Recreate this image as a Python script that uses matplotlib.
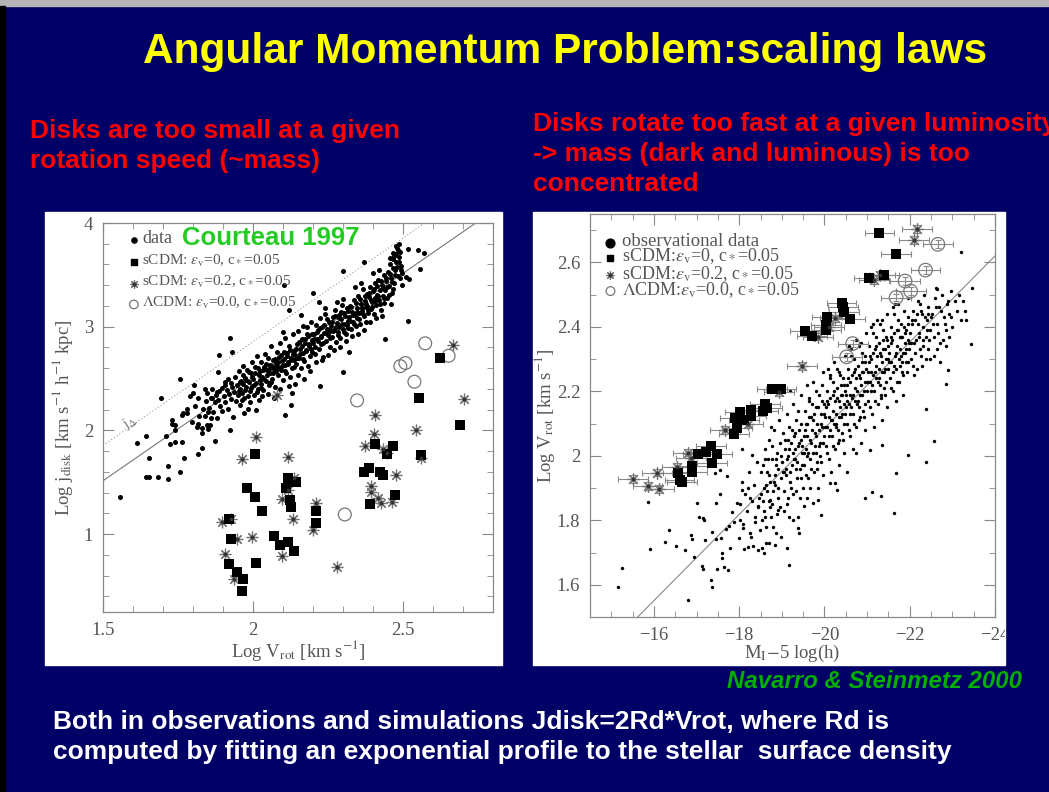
import numpy as np
import matplotlib
matplotlib.use('Agg')
import matplotlib.pyplot as plt
from matplotlib.patches import Rectangle
from matplotlib.ticker import MultipleLocator
from matplotlib.transforms import Bbox, TransformedBbox

plt.rcParams['font.family'] = 'Liberation Serif'
plt.rcParams['mathtext.fontset'] = 'stix'

W, H = 1049, 792
NAVY = '#000066'
AXCOL = '#555555'

# ---------------- left panel: log j_disk vs log V_rot ----------------
# Courteau 1997 galaxies
jdata = [
    (1.557,1.355),(1.612,1.88),(1.642,1.95),(1.653,1.73),(1.642,1.55),(1.653,1.55),(1.682,1.55),
    (1.716,1.53),(1.716,1.66),(1.693,2.31),(1.710,1.95),(1.723,1.865),(1.740,1.89),(1.757,1.60),
    (1.771,1.73),(1.762,1.89),(1.757,2.50),(1.729,2.10),(1.740,2.05),(1.762,2.15),(1.779,2.21),
    (1.796,2.08),(1.804,2.44),(1.818,1.77),(1.829,1.83),(1.812,2.03),(1.829,2.02),(1.846,2.05),
    (1.818,2.31),(1.834,2.21),(1.851,2.18),(1.873,1.90),(1.862,2.31),(1.879,2.37),(1.884,2.56),
    (1.887,2.73),(1.907,2.47),(1.923,2.89),(1.924,2.00),(1.929,2.76),(1.780,2.17),(1.800,2.36),
    (1.820,2.14),(1.790,2.33),(1.840,2.40),(1.830,1.98),(1.850,2.01),(1.860,2.12),(1.805,2.24),
    (1.815,2.06),(1.740,2.00),(1.730,2.06),(1.765,2.17),
    (1.840,2.14),(1.843,2.28),(1.848,2.36),(1.852,2.22),(1.856,2.05),(1.861,2.31),(1.864,2.40),
    (1.868,2.18),(1.872,2.27),(1.876,2.34),(1.880,2.12),(1.884,2.29),(1.887,2.38),(1.891,2.24),
    (1.895,2.41),(1.898,2.19),
    (1.902,2.33),(1.905,2.44),(1.908,2.27),(1.912,2.39),(1.915,2.50),(1.918,2.21),(1.921,2.35),
    (1.925,2.46),(1.928,2.30),(1.931,2.42),(1.934,2.13),(1.937,2.37),(1.940,2.52),(1.943,2.28),
    (1.946,2.44),(1.949,2.34),(1.952,2.57),(1.955,2.25),(1.958,2.40),(1.960,2.48),
    (1.962,2.36),(1.965,2.62),(1.968,2.45),(1.971,2.31),(1.974,2.51),(1.977,2.42),(1.980,2.58),
    (1.983,2.21),(1.986,2.47),(1.989,2.38),(1.992,2.55),(1.995,2.66),(1.998,2.43),(2.001,2.50),
    (2.004,2.34),(2.007,2.61),(2.010,2.46),(2.013,2.72),(2.016,2.40),(2.019,2.53),(2.021,2.29),
    (1.970,2.17),(1.990,2.27),(2.010,2.20),
    (2.022,2.57),(2.025,2.45),(2.028,2.66),(2.031,2.52),(2.034,2.39),(2.037,2.61),(2.040,2.74),
    (2.043,2.48),(2.046,2.58),(2.049,2.70),(2.052,2.44),(2.055,2.63),(2.058,2.55),(2.061,2.81),
    (2.064,2.50),(2.067,2.68),(2.070,2.59),(2.073,2.42),(2.076,2.65),(2.079,2.76),(2.030,2.33),
    (2.050,2.35),(2.070,2.31),(2.060,2.47),
    (2.081,2.62),(2.084,2.53),(2.087,2.71),(2.090,2.84),(2.093,2.58),(2.096,2.67),(2.099,2.49),
    (2.102,2.76),(2.105,2.63),(2.108,2.89),(2.111,2.55),(2.114,2.72),(2.117,2.66),(2.120,2.81),
    (2.123,2.52),(2.126,2.70),(2.129,2.60),(2.132,2.93),(2.135,2.68),(2.138,2.77),(2.139,2.45),
    (2.090,2.40),(2.120,2.43),(2.100,2.95),(2.130,2.36),(2.121,3.16),(2.104,3.40),(2.107,2.15),
    (2.127,2.25),
    (2.141,2.73),(2.144,2.64),(2.147,2.83),(2.150,2.96),(2.153,2.70),(2.156,2.79),(2.159,2.60),
    (2.162,2.88),(2.165,2.75),(2.168,3.01),(2.171,2.67),(2.174,2.84),(2.177,2.78),(2.180,2.93),
    (2.183,2.62),(2.186,2.81),(2.189,2.72),(2.192,3.05),(2.195,2.87),(2.198,2.76),(2.150,2.53),
    (2.170,2.50),(2.190,2.57),(2.160,3.11),(2.180,3.00),
    (2.201,2.84),(2.204,2.93),(2.207,2.74),(2.210,3.02),(2.213,2.88),(2.216,2.97),(2.219,2.79),
    (2.222,3.08),(2.225,2.90),(2.228,2.83),(2.231,3.00),(2.234,2.71),(2.237,2.94),(2.240,3.12),
    (2.243,2.86),(2.246,2.98),(2.249,2.92),(2.252,3.05),(2.255,2.80),(2.258,2.96),(2.210,2.66),
    (2.230,2.68),(2.250,2.73),(2.220,3.24),(2.224,2.43),(2.240,3.18),(2.200,3.33),
    (2.261,3.01),(2.264,2.90),(2.267,3.09),(2.270,2.97),(2.273,3.16),(2.276,2.85),(2.279,3.04),
    (2.282,2.95),(2.285,3.11),(2.288,3.00),(2.291,2.89),(2.294,3.07),(2.297,3.21),(2.300,2.98),
    (2.303,3.13),(2.306,3.03),(2.309,2.93),(2.312,3.18),(2.315,3.06),(2.318,2.99),(2.270,2.78),
    (2.290,2.80),(2.310,2.86),(2.280,3.24),(2.300,3.27),(2.320,2.76),(2.301,2.56),(2.300,3.54),
    (2.321,3.09),(2.324,3.20),(2.327,2.98),(2.330,3.14),(2.333,3.05),(2.336,3.26),(2.339,3.11),
    (2.342,3.01),(2.345,3.18),(2.348,3.08),(2.351,3.30),(2.354,3.13),(2.357,3.03),(2.360,3.22),
    (2.363,3.15),(2.366,3.36),(2.369,3.10),(2.372,3.25),(2.375,3.19),(2.378,3.05),(2.330,2.91),
    (2.350,2.93),(2.370,2.97),(2.340,3.38),(2.360,3.42),(2.380,3.32),(2.370,3.62),
    (2.381,3.20),(2.384,3.13),(2.387,3.29),(2.390,3.38),(2.393,3.17),(2.396,3.24),(2.399,3.34),
    (2.402,3.12),(2.405,3.28),(2.408,3.42),(2.411,3.21),(2.414,3.31),(2.417,3.45),(2.420,3.26),
    (2.423,3.35),(2.426,3.16),(2.429,3.40),(2.432,3.30),(2.435,3.50),(2.438,3.23),(2.390,3.05),
    (2.410,3.08),(2.430,3.10),(2.400,3.52),(2.420,3.55),(2.440,2.88),
    (2.441,3.35),(2.444,3.44),(2.447,3.28),(2.450,3.53),(2.453,3.39),(2.456,3.60),(2.459,3.47),
    (2.462,3.33),(2.465,3.57),(2.468,3.65),(2.471,3.42),(2.474,3.50),(2.477,3.70),(2.480,3.58),
    (2.483,3.74),(2.486,3.62),(2.489,3.47),(2.492,3.55),(2.495,3.40),(2.460,3.22),(2.480,3.76),
    (2.490,3.72),(2.470,3.68),(2.510,3.48),(2.520,3.46),(2.517,3.06),(2.515,3.75),(2.550,3.74),
    (2.555,3.56),(2.570,3.71),
    (1.953,2.38),(1.957,2.47),(1.963,2.29),(1.967,2.53),(1.973,2.39),(1.978,2.49),(1.982,2.33),
    (1.987,2.56),(1.993,2.41),(1.997,2.52),(2.003,2.44),(2.008,2.55),(2.012,2.37),(2.017,2.60),
    (2.023,2.49),(2.027,2.41),(2.033,2.58),(2.038,2.50),(2.042,2.64),(2.047,2.53),(2.053,2.59),
    (2.057,2.46),(2.063,2.62),(2.068,2.55),(2.072,2.69),(2.077,2.57),(2.083,2.66),(2.088,2.60),
    (2.092,2.73),(2.097,2.62),(2.103,2.69),(2.107,2.57),(2.113,2.75),(2.118,2.64),(2.122,2.78),
    (2.127,2.68),(2.133,2.74),(2.137,2.61),(2.143,2.79),(2.148,2.70),(2.152,2.85),(2.157,2.74),
    (2.163,2.81),(2.167,2.69),(2.173,2.88),(2.178,2.77),(2.182,2.91),(2.187,2.83),(2.193,2.79),
    (2.197,2.93),(2.203,2.88),(2.208,2.80),(2.212,2.95),(2.217,2.86),(2.223,2.99),(2.227,2.91),
    (2.233,2.84),(2.238,3.02),(2.242,2.94),(2.247,3.07),(2.253,2.97),(2.257,2.89),(2.263,3.05),
    (2.268,2.96),(2.272,3.10),(2.277,3.00),(2.283,2.92),(2.287,3.08),(2.293,3.14),(2.298,3.03),
    (2.302,2.95),(2.307,3.10),(2.313,3.02),(2.317,3.15),(2.323,3.06),(2.328,3.19),(2.332,3.11),
    (2.337,3.03),(2.343,3.23),(2.347,3.14),(2.353,3.07),(2.358,3.27),(2.362,3.18),(2.367,3.12),
    (2.373,3.30),(2.377,3.22),(2.383,3.16),(2.388,3.33),(2.392,3.26),(2.397,3.19),(2.403,3.36),
    (2.407,3.25),(2.413,3.39),(2.418,3.30),(2.422,3.22),(2.427,3.44),(2.433,3.37),(2.437,3.28),
    (2.443,3.47),(2.448,3.38),(2.452,3.31),(2.457,3.51),(2.463,3.43),(2.467,3.36),(2.473,3.55),
    (2.478,3.62),(2.482,3.49),(2.487,3.67),(2.493,3.59),(2.497,3.52),(2.485,3.80),(2.475,3.78),
    (2.465,3.71),(2.455,3.66),
]

# sCDM eps_v=0, c*=0.05
j_scdm0 = [
    (2.624,2.70),(2.552,2.31),(2.689,2.05),(2.406,1.87),(2.467,1.85),(2.446,1.77),(2.561,1.76),
    (2.008,1.77),(2.371,1.60),(2.386,1.64),(2.424,1.60),(2.432,1.57),(2.474,1.38),(2.389,1.29),
    (2.116,1.545),(2.110,1.45),(2.144,1.50),(2.124,1.33),(2.127,1.26),(1.979,1.45),(2.006,1.36),
    (2.031,1.22),(2.210,1.22),(2.210,1.11),(1.919,1.15),(1.926,0.95),(2.069,0.98),(2.089,0.90),
    (2.118,0.925),(2.137,0.84),(1.921,0.71),(1.948,0.64),(2.010,0.72),(1.968,0.57),(1.962,0.45),
]
# sCDM eps_v=0.2, c*=0.05
j_scdm2 = [
    (2.666,2.82),(2.702,2.30),(2.406,2.15),(2.402,1.97),(2.543,2.00),(2.374,1.855),(2.433,1.82),
    (2.446,1.785),(2.011,1.94),(2.080,2.34),(1.963,1.725),(2.116,1.74),(2.560,1.73),(2.478,1.57),
    (2.394,1.46),(2.394,1.41),(2.416,1.35),(2.428,1.30),(2.463,1.31),(2.136,1.54),(2.117,1.43),
    (2.097,1.34),(2.210,1.30),(2.132,1.15),(2.199,1.036),(1.897,1.117),(1.926,1.15),(1.948,0.955),
    (1.997,0.977),(1.908,0.805),(2.098,0.79),(1.936,0.57),(2.280,0.685),
]
# LCDM eps_v=0.0, c*=0.05
j_lcdm = [(2.574,2.84),(2.652,2.72),(2.508,2.65),(2.491,2.62),(2.538,2.47),(2.347,2.29),(2.306,1.19)]

# j ~ V^2 relations (solid: fit, dotted: j_Delta)
jline_x = [1.5, 2.8]
jline_solid = [1.515, 4.115]
jline_dotted = [1.855, 4.455]

# ---------------- right panel: log V_rot vs M_I ----------------
vdata = [
    (-15.16,1.592),(-15.26,1.651),(-15.87,1.858),(-15.90,1.711),(-16.25,1.734),(-16.35,1.770),
    (-16.51,1.720),(-16.73,1.708),(-16.80,1.552),(-16.87,1.754),(-16.89,1.742),(-16.94,1.687),
    (-17.02,1.853),(-17.06,1.811),(-17.14,1.806),(-17.18,1.801),(-17.13,1.658),(-17.14,1.649),
    (-17.20,1.739),(-17.33,1.615),(-17.36,1.594),(-17.37,1.765),(-17.46,1.853),(-17.46,1.741),
    (-17.47,1.648),(-17.54,1.882),(-17.58,1.744),(-17.60,1.697),(-17.60,1.682),(-17.64,1.654),
    (-17.70,1.772),(-17.74,1.646),(-17.75,1.782),(-17.82,1.827),(-17.79,1.713),(-17.88,1.796),
    (-17.94,1.853),(-17.99,1.744),(-18.02,1.801),(-18.07,1.894),(-18.10,1.775),(-18.21,1.718),
    (-18.25,1.868),(-18.28,1.749),(-18.37,1.796),(-18.43,1.708),(-18.45,1.843),(-18.49,1.770),
    (-18.53,1.713),(-18.58,1.697),(-18.61,1.811),(-18.69,1.729),(-18.73,1.863),(-18.79,1.780),
    (-18.85,1.723),(-18.91,1.832),(-18.97,1.749),(-19.13,1.713),(-19.17,1.811),(-19.27,1.801),
    (-19.37,1.775),(-19.40,1.760),(-19.17,1.661),(-19.52,1.843),(-19.58,1.868),(-19.72,1.853),
    (-19.84,1.863),(-19.92,1.817),(-20.12,1.915),(-20.24,1.915),(-20.29,1.894),(-20.52,1.951),
    (-20.75,2.008),(-20.95,1.868),(-21.11,1.889),(-21.33,1.874),(-21.64,1.824),(-21.67,1.948),
    (-21.96,2.003),(-22.37,1.982),(-22.58,2.045),(-21.35,2.034),(-21.07,2.019),(-18.06,2.021),
    (-18.29,2.003),(-17.54,1.956),(-17.44,1.946),(-17.72,1.938),
    (-18.02,1.85),(-18.06,1.92),(-18.10,1.79),(-18.14,1.88),(-18.18,1.83),(-18.22,1.95),
    (-18.26,1.76),(-18.30,1.86),(-18.34,1.91),(-18.38,1.81),(-18.42,1.98),(-18.46,1.87),
    (-18.12,1.71),(-18.32,1.72),(-18.44,1.84),(-18.20,1.90),
    (-18.52,1.88),(-18.55,1.97),(-18.57,1.83),(-18.60,2.02),(-18.62,1.91),(-18.64,1.78),
    (-18.66,1.95),(-18.69,1.86),(-18.71,2.05),(-18.73,1.92),(-18.75,1.81),(-18.78,1.99),
    (-18.80,1.89),(-18.82,2.08),(-18.84,1.94),(-18.86,1.76),(-18.88,2.01),(-18.90,1.87),
    (-18.92,1.96),(-18.94,2.11),(-18.96,1.84),(-18.98,1.93),(-18.58,1.90),(-18.68,1.99),
    (-18.77,1.85),(-18.87,1.97),(-18.95,2.04),(-18.63,1.73),(-18.85,1.91),(-18.74,2.09),
    (-19.01,1.98),(-19.03,2.07),(-19.05,1.89),(-19.07,2.02),(-19.09,1.94),(-19.11,2.13),
    (-19.13,1.85),(-19.15,2.00),(-19.17,2.09),(-19.19,1.92),(-19.21,2.04),(-19.23,1.97),
    (-19.25,2.16),(-19.27,1.88),(-19.29,2.06),(-19.31,1.99),(-19.33,2.11),(-19.35,1.93),
    (-19.37,2.03),(-19.39,1.81),(-19.41,2.08),(-19.43,1.96),(-19.45,2.19),(-19.47,2.01),
    (-19.49,1.90),(-19.06,1.95),(-19.14,2.05),(-19.22,1.90),(-19.30,2.02),(-19.38,2.14),
    (-19.46,2.05),(-19.12,1.99),(-19.26,2.01),(-19.34,1.96),(-19.42,1.87),(-19.18,2.20),
    (-19.04,1.83),(-19.48,1.97),
    (-19.51,2.06),(-19.53,1.97),(-19.55,2.14),(-19.57,2.02),(-19.59,2.10),(-19.61,1.93),
    (-19.63,2.18),(-19.65,2.05),(-19.67,1.99),(-19.69,2.12),(-19.71,2.08),(-19.73,2.23),
    (-19.75,1.95),(-19.77,2.07),(-19.79,2.15),(-19.81,2.01),(-19.83,2.10),(-19.85,1.90),
    (-19.87,2.19),(-19.89,2.04),(-19.91,2.13),(-19.93,1.98),(-19.95,2.09),(-19.97,2.26),
    (-19.99,2.06),(-19.54,2.08),(-19.62,2.01),(-19.70,2.16),(-19.78,2.03),(-19.86,2.08),
    (-19.94,2.17),(-19.58,2.22),(-19.66,1.90),(-19.74,2.11),(-19.82,1.96),(-19.90,2.00),
    (-19.98,2.13),(-19.60,2.06),(-19.80,2.20),(-19.96,1.94),
    (-20.01,2.12),(-20.03,2.03),(-20.05,2.20),(-20.07,2.09),(-20.09,2.16),(-20.11,1.99),
    (-20.13,2.24),(-20.15,2.11),(-20.17,2.06),(-20.19,2.19),(-20.21,2.14),(-20.23,2.29),
    (-20.25,2.02),(-20.27,2.13),(-20.29,2.21),(-20.31,2.08),(-20.33,2.17),(-20.35,1.97),
    (-20.37,2.25),(-20.39,2.12),(-20.41,2.19),(-20.43,2.05),(-20.45,2.16),(-20.47,2.31),
    (-20.49,2.13),(-20.04,2.15),(-20.12,2.08),(-20.20,2.23),(-20.28,2.10),(-20.36,2.15),
    (-20.44,2.24),(-20.08,2.27),(-20.16,1.95),(-20.24,2.17),(-20.32,2.04),(-20.40,2.07),
    (-20.48,2.20),(-20.10,2.12),(-20.30,2.27),(-20.46,2.01),(-20.22,2.10),(-20.38,2.22),
    (-20.51,2.19),(-20.53,2.10),(-20.55,2.27),(-20.57,2.16),(-20.59,2.23),(-20.61,2.06),
    (-20.63,2.31),(-20.65,2.18),(-20.67,2.13),(-20.69,2.26),(-20.71,2.21),(-20.73,2.36),
    (-20.75,2.09),(-20.77,2.20),(-20.79,2.28),(-20.81,2.15),(-20.83,2.24),(-20.85,2.04),
    (-20.87,2.32),(-20.89,2.19),(-20.91,2.26),(-20.93,2.12),(-20.95,2.23),(-20.97,2.38),
    (-20.99,2.20),(-20.54,2.22),(-20.62,2.15),(-20.70,2.30),(-20.78,2.17),(-20.86,2.22),
    (-20.94,2.31),(-20.58,2.34),(-20.66,2.02),(-20.74,2.24),(-20.82,2.11),(-20.90,2.14),
    (-20.98,2.27),(-20.60,2.19),(-20.80,2.34),(-20.96,2.08),(-20.72,2.17),(-20.88,2.29),
    (-21.01,2.26),(-21.03,2.17),(-21.05,2.34),(-21.07,2.23),(-21.09,2.30),(-21.11,2.13),
    (-21.13,2.38),(-21.15,2.25),(-21.17,2.20),(-21.19,2.33),(-21.21,2.28),(-21.23,2.42),
    (-21.25,2.16),(-21.27,2.27),(-21.29,2.35),(-21.31,2.22),(-21.33,2.31),(-21.35,2.11),
    (-21.37,2.39),(-21.39,2.26),(-21.41,2.33),(-21.43,2.19),(-21.45,2.30),(-21.47,2.44),
    (-21.49,2.27),(-21.04,2.29),(-21.12,2.22),(-21.20,2.37),(-21.28,2.24),(-21.36,2.29),
    (-21.44,2.37),(-21.08,2.40),(-21.16,2.09),(-21.24,2.31),(-21.32,2.18),(-21.40,2.21),
    (-21.48,2.34),(-21.10,2.26),(-21.30,2.41),(-21.46,2.15),(-21.22,2.24),(-21.38,2.36),
    (-21.51,2.32),(-21.53,2.24),(-21.55,2.40),(-21.57,2.29),(-21.59,2.36),(-21.61,2.20),
    (-21.63,2.44),(-21.65,2.31),(-21.67,2.27),(-21.69,2.39),(-21.71,2.34),(-21.73,2.47),
    (-21.75,2.23),(-21.77,2.33),(-21.79,2.41),(-21.81,2.29),(-21.83,2.37),(-21.85,2.19),
    (-21.87,2.45),(-21.89,2.32),(-21.91,2.39),(-21.93,2.26),(-21.95,2.36),(-21.97,2.49),
    (-21.99,2.33),(-21.56,2.35),(-21.64,2.28),(-21.72,2.42),(-21.80,2.31),(-21.88,2.35),
    (-21.96,2.43),(-21.60,2.46),(-21.68,2.17),(-21.76,2.37),(-21.84,2.25),(-21.92,2.29),
    (-21.74,2.30),(-21.86,2.40),
    (-22.01,2.38),(-22.04,2.30),(-22.07,2.45),(-22.10,2.35),(-22.13,2.42),(-22.16,2.27),
    (-22.19,2.48),(-22.22,2.37),(-22.25,2.33),(-22.28,2.44),(-22.31,2.40),(-22.34,2.50),
    (-22.37,2.30),(-22.40,2.39),(-22.43,2.46),(-22.46,2.36),(-22.49,2.43),(-22.05,2.41),
    (-22.14,2.36),(-22.23,2.47),(-22.32,2.34),(-22.41,2.42),(-22.11,2.25),(-22.29,2.28),
    (-22.47,2.30),(-22.20,2.41),
    (-22.52,2.44),(-22.56,2.37),(-22.60,2.49),(-22.64,2.41),(-22.68,2.46),(-22.72,2.35),
    (-22.76,2.50),(-22.80,2.43),(-22.84,2.39),(-22.88,2.47),(-22.92,2.44),(-22.96,2.51),
    (-23.00,2.40),(-23.05,2.48),(-23.10,2.45),(-23.15,2.50),(-23.20,2.42),(-22.58,2.31),
    (-22.70,2.29),(-22.86,2.34),(-23.25,2.48),(-23.30,2.45),(-22.62,2.52),(-22.78,2.36),
    (-23.20,2.633),(-22.63,2.517),(-23.45,2.519),(-23.33,2.420),(-23.43,2.348),(-22.86,2.224),
    (-22.38,2.146),(-22.90,2.265),
    (-18.51,1.95),(-18.56,1.86),(-18.61,1.99),(-18.65,1.89),(-18.70,1.94),(-18.76,2.03),
    (-18.81,1.92),(-18.86,1.99),(-18.91,1.90),(-18.97,2.00),(-18.54,1.80),(-18.72,1.84),
    (-18.89,1.82),
    (-19.02,1.95),(-19.08,2.05),(-19.10,1.96),(-19.16,2.02),(-19.20,1.95),(-19.24,2.08),
    (-19.28,1.99),(-19.32,2.07),(-19.36,1.98),(-19.40,2.04),(-19.44,2.10),(-19.48,2.03),
    (-19.15,1.87),(-19.33,1.89),(-19.44,1.93),
    (-19.52,2.01),(-19.56,2.10),(-19.60,2.00),(-19.64,2.12),(-19.68,2.04),(-19.72,2.01),
    (-19.76,2.13),(-19.80,2.06),(-19.84,2.15),(-19.88,2.03),(-19.92,2.10),(-19.96,2.04),
    (-19.99,2.16),(-19.57,1.94),(-19.69,1.96),(-19.83,1.98),(-19.95,2.22),(-19.64,2.17),
    (-20.02,2.09),(-20.06,2.17),(-20.10,2.06),(-20.14,2.18),(-20.18,2.11),(-20.22,2.20),
    (-20.26,2.09),(-20.30,2.18),(-20.34,2.12),(-20.38,2.19),(-20.42,2.13),(-20.46,2.22),
    (-20.50,2.15),(-20.07,2.01),(-20.19,2.03),(-20.33,2.05),(-20.45,2.10),(-20.14,2.25),
    (-20.34,2.26),
    (-20.52,2.17),(-20.56,2.24),(-20.60,2.13),(-20.64,2.25),(-20.68,2.19),(-20.72,2.27),
    (-20.76,2.16),(-20.80,2.25),(-20.84,2.19),(-20.88,2.26),(-20.92,2.20),(-20.96,2.29),
    (-20.99,2.23),(-20.57,2.08),(-20.69,2.10),(-20.83,2.12),(-20.95,2.16),(-20.63,2.33),
    (-20.85,2.35),
    (-21.02,2.23),(-21.06,2.31),(-21.10,2.20),(-21.14,2.32),(-21.18,2.26),(-21.22,2.34),
    (-21.26,2.23),(-21.30,2.32),(-21.34,2.26),(-21.38,2.33),(-21.42,2.27),(-21.46,2.36),
    (-21.50,2.30),(-21.07,2.15),(-21.19,2.17),(-21.33,2.19),(-21.45,2.23),(-21.13,2.41),
    (-21.35,2.42),
    (-21.52,2.29),(-21.56,2.37),(-21.60,2.26),(-21.64,2.38),(-21.68,2.32),(-21.72,2.39),
    (-21.76,2.28),(-21.80,2.37),(-21.84,2.32),(-21.88,2.38),(-21.92,2.33),(-21.96,2.41),
    (-21.99,2.35),(-21.57,2.21),(-21.69,2.23),(-21.83,2.26),(-21.95,2.29),(-21.65,2.47),
    (-22.02,2.35),(-22.06,2.42),(-22.12,2.32),(-22.17,2.44),(-22.21,2.38),(-22.26,2.45),
    (-22.30,2.36),(-22.35,2.43),(-22.39,2.37),(-22.44,2.44),(-22.48,2.39),(-22.08,2.28),
    (-22.27,2.31),(-22.42,2.33),
    (-22.54,2.41),(-22.61,2.46),(-22.66,2.38),(-22.74,2.45),(-22.82,2.41),(-22.90,2.48),
    (-22.97,2.43),(-22.65,2.33),(-22.93,2.37),
]

v_scdm0 = [
    (-21.29,2.692),(-21.68,2.626),(-21.40,2.561),(-21.05,2.552),(-20.40,2.473),(-20.44,2.462),
    (-20.46,2.447),(-20.60,2.424),(-20.06,2.431),(-20.04,2.405),(-20.04,2.390),(-19.54,2.387),
    (-19.70,2.372),(-18.77,2.208),(-18.99,2.208),(-18.60,2.162),(-18.28,2.141),(-18.28,2.123),
    (-18.02,2.136),(-18.12,2.112),(-17.90,2.118),(-17.94,2.086),(-17.87,2.068),(-18.55,2.140),
    (-18.65,2.147),(-17.04,2.006),(-17.22,2.011),(-17.34,2.029),(-17.48,2.006),(-17.36,1.979),
    (-16.90,1.967),(-16.90,1.951),(-16.56,1.948),(-16.60,1.925),(-16.65,1.920),
]
v_scdm2 = [
    (-22.18,2.704),(-22.10,2.669),(-21.17,2.545),(-21.30,2.560),(-20.25,2.426),(-20.10,2.400),
    (-19.48,2.279),(-18.93,2.198),(-17.66,2.079),(-16.80,2.010),(-16.87,1.993),(-16.55,1.965),
    (-16.07,1.948),(-15.50,1.927),(-15.85,1.907),(-16.13,1.896),(-18.20,2.100),(-19.85,2.370),
]
v_lcdm = [(-22.66,2.656),(-22.37,2.576),(-21.89,2.542),(-22.02,2.511),(-21.68,2.491),
          (-20.66,2.348),(-20.52,2.307)]
v_xerr = 0.35
v_yerr = 0.012

# Tully-Fisher fit line
tf_x = [-15.62, -24.0]
tf_y = [1.50, 2.62]


def px2fig(x, y):
    return x / W, 1 - y / H


fig = plt.figure(figsize=(W / 100, H / 100), dpi=100, facecolor=NAVY)

# slide frame strips
fig.add_artist(Rectangle((0, 1 - 6 / H), 1, 6 / H, transform=fig.transFigure,
                         color='#b4b4b4', zorder=0))
fig.add_artist(Rectangle((0, 0), 5 / W, 1 - 6 / H, transform=fig.transFigure,
                         color='black', zorder=0))
# white backgrounds of both plots
fig.add_artist(Rectangle(px2fig(45, 665), 457 / W, 453 / H, transform=fig.transFigure,
                         color='white', zorder=0))
fig.add_artist(Rectangle(px2fig(533, 665), 472 / W, 453 / H, transform=fig.transFigure,
                         color='white', zorder=0))

sans = 'Liberation Sans'
fig.text(565 / W, 1 - 52 / H, 'Angular Momentum Problem:scaling laws', color='#ffff00',
         fontsize=30.5, fontweight='bold', family=sans, ha='center', va='center')
fig.text(30 / W, 1 - 146 / H, 'Disks are too small at a given\nrotation speed (~mass)',
         color='#ff0000', fontsize=19, fontweight='bold', family=sans, ha='left',
         va='center', linespacing=1.3)
fig.text(533 / W, 1 - 154 / H, 'Disks rotate too fast at a given luminosity\n'
         '-> mass (dark and luminous) is too\nconcentrated',
         color='#ff0000', fontsize=19, fontweight='bold', family=sans, ha='left',
         va='center', linespacing=1.34)
fig.text(727 / W, 1 - 682 / H, 'Navarro & Steinmetz 2000', color='#00b000', fontsize=17.3,
         fontweight='bold', fontstyle='italic', family=sans, ha='left', va='center')
fig.text(53 / W, 1 - 737 / H, 'Both in observations and simulations Jdisk=2Rd*Vrot, where Rd is\n'
         'computed by fitting an exponential profile to the stellar  surface density',
         color='white', fontsize=19, fontweight='bold', family=sans, ha='left',
         va='center', linespacing=1.3)


def style_axes(ax):
    for s in ax.spines.values():
        s.set_color('#888888')
        s.set_linewidth(0.9)
    ax.tick_params(which='both', direction='in', top=True, right=True, color='#888888',
                   labelcolor=AXCOL, labelsize=13.5)
    ax.tick_params(which='major', length=8, pad=7)
    ax.tick_params(which='minor', length=4)


def asterisk(ax, pts, s=60):
    p = np.array(pts)
    ax.scatter(p[:, 0], p[:, 1], marker=(8, 2, 0), s=s, color='#777777', lw=0.9, zorder=4)
    ax.scatter(p[:, 0], p[:, 1], marker='o', s=3, color='#333333', zorder=5)


# ---- left plot
ax1 = fig.add_axes([103 / W, 1 - 612 / H, 390 / W, 389 / H])
style_axes(ax1)
ax1.set_xlim(1.5, 2.8)
ax1.set_ylim(0.25, 4.0)
ax1.set_xticks([1.5, 2.0, 2.5])
ax1.set_xticklabels(['1.5', '2', '2.5'])
ax1.set_yticks([1, 2, 3, 4])
ax1.set_yticklabels(['1', '2', '3', '4'])
ax1.xaxis.set_minor_locator(MultipleLocator(0.1))
ax1.yaxis.set_minor_locator(MultipleLocator(0.2))

ax1.plot(jline_x, jline_solid, color='#777777', lw=0.8, zorder=2)
ax1.plot(jline_x, jline_dotted, color='#999999', lw=0.8, ls=(0, (1, 2)), zorder=2)
ax1.text(1.555, 2.02, r'j$_\Delta$', color='#777777', fontsize=11, rotation=34.6)

d = np.array(jdata)
ax1.scatter(d[:, 0], d[:, 1], s=13, color='black', lw=0, zorder=3)
d = np.array(j_scdm0)
ax1.scatter(d[:, 0], d[:, 1], marker='s', s=42, color='black', lw=0, zorder=5)
asterisk(ax1, j_scdm2)
d = np.array(j_lcdm)
ax1.scatter(d[:, 0], d[:, 1], marker='o', s=85, facecolors='none', edgecolors='#777777',
            lw=0.9, zorder=4)

# legend rows
ax1.scatter([1.603], [3.84], s=14, color='black', zorder=5)
ax1.text(1.63, 3.855, 'data', fontsize=13, color=AXCOL, va='center')
ax1.text(1.762, 3.855, 'Courteau 1997', fontsize=18.5, color='#22cc22', va='center',
         family=sans, fontweight='bold')
ax1.scatter([1.603], [3.62], marker='s', s=14, color='black', zorder=5)
ax1.text(1.63, 3.635, r'sCDM: $\epsilon_{\rm v}$=0, c$_*$=0.05', fontsize=11, color=AXCOL,
         va='center')
asterisk(ax1, [(1.603, 3.415)], s=30)
ax1.text(1.63, 3.43, r'sCDM: $\epsilon_{\rm v}$=0.2, c$_*$=0.05', fontsize=11, color=AXCOL,
         va='center')
ax1.scatter([1.603], [3.215], marker='o', s=38, facecolors='none', edgecolors='#777777',
            lw=0.9, zorder=5)
ax1.text(1.63, 3.23, r'$\Lambda$CDM: $\epsilon_{\rm v}$=0.0, c$_*$=0.05', fontsize=11,
         color=AXCOL, va='center')

ax1.set_xlabel(r'Log V$_{\rm rot}$ [km s$^{-1}$]', fontsize=13.5, color=AXCOL)
ax1.set_ylabel(r'Log j$_{\rm disk}$ [km s$^{-1}$ h$^{-1}$ kpc]', fontsize=13.5, color=AXCOL)
ax1.xaxis.set_label_coords(0.5, -0.067)
ax1.yaxis.set_label_coords(-0.072, 0.5)

# ---- right plot
ax2 = fig.add_axes([590 / W, 1 - 617 / H, 405 / W, 403 / H])
style_axes(ax2)
ax2.set_xlim(-14.5, -24.0)
ax2.set_ylim(1.5, 2.75)
xt = [-16, -18, -20, -22, -24]
ax2.set_xticks(xt)
ax2.set_xticklabels(['\u2212%d' % -v for v in xt])
yt = [1.6, 1.8, 2.0, 2.2, 2.4, 2.6]
ax2.set_yticks(yt)
ax2.set_yticklabels(['1.6', '1.8', '2', '2.2', '2.4', '2.6'])
ax2.xaxis.set_minor_locator(MultipleLocator(0.5))
ax2.yaxis.set_minor_locator(MultipleLocator(0.1))

# tick labels are cut at the edge of the white plot area
box = TransformedBbox(Bbox([[533 / W, 0], [1005 / W, 1]]), fig.transFigure)
for lbl in ax2.get_xticklabels():
    lbl.set_clip_box(box)
    lbl.set_clip_on(True)

ax2.plot(tf_x, tf_y, color='#888888', lw=0.8, zorder=2)
d = np.array(vdata)
ax2.scatter(d[:, 0], d[:, 1], s=6, color='black', lw=0, zorder=3)

for pts in (v_scdm0, v_scdm2, v_lcdm):
    p = np.array(pts)
    ax2.errorbar(p[:, 0], p[:, 1], xerr=v_xerr, yerr=v_yerr, fmt='none', ecolor='#8a8a8a',
                 elinewidth=0.8, capsize=2.5, capthick=0.8, zorder=3)
d = np.array(v_scdm0)
ax2.scatter(d[:, 0], d[:, 1], marker='s', s=48, color='black', lw=0, zorder=5)
asterisk(ax2, v_scdm2, s=70)
d = np.array(v_lcdm)
ax2.scatter(d[:, 0], d[:, 1], marker='o', s=95, facecolors='none', edgecolors='#777777',
            lw=0.9, zorder=4)

ax2.scatter([-14.98], [2.661], s=40, color='black', zorder=5)
ax2.text(-15.26, 2.664, 'observational data', fontsize=13.5, color=AXCOL, va='center')
ax2.scatter([-14.98], [2.615], marker='s', s=16, color='black', zorder=5)
ax2.text(-15.26, 2.618, r'sCDM:$\epsilon_{\rm v}$=0, c$_*$=0.05', fontsize=13, color=AXCOL,
         va='center')
asterisk(ax2, [(-14.98, 2.561)], s=30)
ax2.text(-15.26, 2.564, r'sCDM:$\epsilon_{\rm v}$=0.2, c$_*$=0.05', fontsize=13,
         color=AXCOL, va='center')
ax2.scatter([-14.98], [2.511], marker='o', s=40, facecolors='none', edgecolors='#777777',
            lw=0.9, zorder=5)
ax2.text(-15.26, 2.514, r'$\Lambda$CDM:$\epsilon_{\rm v}$=0.0, c$_*$=0.05', fontsize=13,
         color=AXCOL, va='center')

ax2.set_xlabel(r'M$_{\rm I}$$-$5 log(h)', fontsize=13.5, color=AXCOL)
ax2.set_ylabel(r'Log V$_{\rm rot}$ [km s$^{-1}$]', fontsize=13.5, color=AXCOL)
ax2.xaxis.set_label_coords(0.5, -0.065)
ax2.yaxis.set_label_coords(-0.081, 0.5)

fig.savefig('out.png', dpi=100, facecolor=NAVY)
